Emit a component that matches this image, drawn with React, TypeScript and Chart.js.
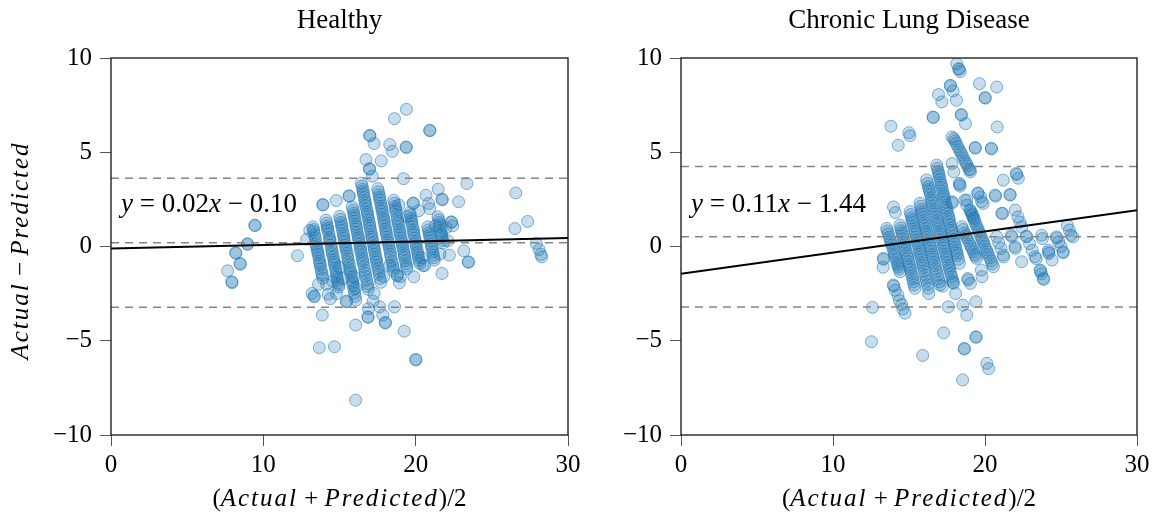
import React, { useEffect, useRef } from "react";
import { Chart, registerables } from "chart.js";

Chart.register(...registerables);

type P = [number, number];

// ---------- Healthy panel ----------
const healthyTitle = "Healthy";
const healthyEquation = ["y", " = 0.02", "x", " − 0.10"];
const healthyFit: P[] = [[0, -0.1], [30, 0.45]];
const healthyLimits = [3.62, 0.2, -3.22];

const healthyOutliers: P[] = [
  [7.66, -1.29], [7.93, -1.87], [7.95, -1.92], [8.18, -0.32], [8.2, -0.36], [8.47, -0.9], [8.49, -0.94],
  [8.95, 0.14], [8.97, 0.12], [9.44, 1.13], [9.46, 1.11], [12.24, -0.49], [12.85, 0.39], [13.2, -2.49],
  [13.33, -2.63], [13.35, -2.66], [13.67, -5.37], [14.67, -5.32], [13.87, -3.64], [14.26, -2.53],
  [14.4, -2.77], [14.79, 2.44], [13.9, 2.23], [13.92, 2.2], [15.45, -2.9], [15.47, -2.93], [16.06, -4.17],
  [16.06, -8.15], [15.62, 2.69], [15.64, 2.66], [16.74, 4.61], [16.98, 5.9], [17.0, 5.87], [17.27, 5.46],
  [16.96, 4.13], [16.98, 4.1], [17.15, 3.73], [17.74, 4.54], [18.3, 5.41], [18.47, 5.05], [18.61, 6.78],
  [19.39, 7.28], [19.37, 5.28], [19.39, 5.25], [20.92, 6.17], [20.94, 6.14], [19.2, 3.6], [19.83, 2.31],
  [19.85, 2.28], [20.68, 2.72], [20.85, 2.28], [20.92, 2.01], [21.48, 3.04], [21.73, 2.51], [21.75, 2.48],
  [22.82, 2.37], [23.36, 3.34], [22.34, 1.31], [22.36, 1.28], [22.43, 1.1], [23.16, -0.23], [23.45, -0.81],
  [23.47, -0.84], [22.21, -0.46], [21.73, -1.43], [26.57, 2.84], [26.52, 0.95], [27.35, 1.33], [27.91, 0.16],
  [28.1, -0.16], [28.22, -0.42], [28.27, -0.55], [17.64, -3.2], [17.84, -3.64], [18.0, -4.03], [18.02, -4.06],
  [18.61, -3.2], [18.93, -1.93], [18.78, -1.52], [18.8, -1.55], [19.25, -4.49], [20.0, -5.99], [20.02, -6.02],
  [16.86, -3.73], [16.88, -3.76], [17.27, -2.49], [19.88, -1.61], [20.49, -1.02],
];

const healthyStripes: P[] = [
  [13.25, 1.04], [13.31, 0.78], [13.4, 0.47], [13.45, 0.12], [13.54, -0.18], [13.6, -0.42], [13.69, -0.78],
  [13.74, -1.02], [13.83, -1.38], [13.9, -1.68],
  [14.11, 1.4], [14.19, 1.08], [14.23, 0.87], [14.34, 0.48], [14.38, 0.27], [14.48, -0.12], [14.53, -0.38],
  [14.63, -0.72], [14.68, -0.98], [14.77, -1.33], [14.83, -1.62], [14.91, -1.93], [14.95, -2.15],
  [15.01, 1.6], [15.1, 1.28], [15.15, 1.03], [15.24, 0.68], [15.29, 0.42], [15.38, 0.08], [15.44, -0.18],
  [15.53, -0.52], [15.59, -0.83], [15.68, -1.17], [15.74, -1.43], [15.84, -1.82], [15.89, -2.08],
  [15.99, -2.47], [16.07, -2.84],
  [15.84, 2.1], [15.93, 1.78], [15.98, 1.52], [16.07, 1.18], [16.12, 0.92], [16.21, 0.58], [16.27, 0.32],
  [16.36, -0.02], [16.41, -0.28], [16.5, -0.62], [16.55, -0.88], [16.66, -1.27], [16.72, -1.58],
  [16.83, -1.97], [16.89, -2.28],
  [16.44, 3.36], [16.52, 3.03], [16.58, 2.77], [16.67, 2.43], [16.72, 2.17], [16.82, 1.83], [16.87, 1.57],
  [16.96, 1.23], [17.01, 0.97], [17.1, 0.63], [17.15, 0.37], [17.25, 0.03], [17.3, -0.23], [17.39, -0.57],
  [17.44, -0.83], [17.53, -1.17], [17.6, -1.48], [17.71, -1.9],
  [17.51, 3.07], [17.6, 2.73], [17.65, 2.47], [17.75, 2.13], [17.8, 1.87], [17.89, 1.53], [17.94, 1.27],
  [18.03, 0.93], [18.08, 0.67], [18.17, 0.33], [18.23, 0.07], [18.32, -0.27], [18.38, -0.58],
  [18.49, -0.97], [18.55, -1.28],
  [18.56, 2.45], [18.65, 2.13], [18.7, 1.87], [18.8, 1.48], [18.85, 1.22], [18.94, 0.88], [18.99, 0.62],
  [19.09, 0.28], [19.14, 0.02], [19.23, -0.32], [19.28, -0.58], [19.37, -0.92], [19.43, -1.18],
  [19.62, 1.8], [19.7, 1.48], [19.75, 1.22], [19.84, 0.88], [19.89, 0.62], [19.99, 0.28], [20.04, 0.02],
  [20.13, -0.32], [20.18, -0.58], [20.27, -0.9],
  [20.8, 1.04], [20.88, 0.73], [20.93, 0.47], [21.02, 0.13], [21.07, -0.13], [21.17, -0.47], [21.22, -0.72],
  [21.47, 1.57], [21.55, 1.28], [21.6, 1.02], [21.69, 0.68], [21.73, 0.47], [21.81, 0.18],
  [13.05, 0.85], [13.62, -2.0], [14.15, -2.0], [14.55, -1.85], [14.8, -2.5], [15.0, -1.1], [15.2, -1.7],
  [15.95, -1.6], [16.05, -2.2], [16.9, -3.3], [17.2, -2.9], [17.9, -1.6], [18.3, -1.0], [19.0, -1.6],
  [20.4, -0.6], [20.6, -1.0], [19.4, 1.6], [18.9, 2.2], [20.2, 1.9], [21.3, 1.1], [22.0, 1.0],
  [21.6, -0.4], [22.1, 0.3],
];

const healthyStripesDense: P[] = [
  [13.3, 0.9], [13.37, 0.62], [13.44, 0.3], [13.5, -0.03], [13.58, -0.3], [13.66, -0.6], [13.72, -0.9],
  [13.79, -1.2], [13.87, -1.52],
  [14.16, 1.24], [14.22, 0.97], [14.3, 0.68], [14.37, 0.38], [14.44, 0.07], [14.51, -0.25], [14.59, -0.55],
  [14.66, -0.85], [14.73, -1.15], [14.81, -1.48], [14.88, -1.78], [14.94, -2.04],
  [15.06, 1.44], [15.14, 1.15], [15.2, 0.86], [15.28, 0.55], [15.34, 0.25], [15.42, -0.05], [15.5, -0.35],
  [15.57, -0.68], [15.64, -1.0], [15.72, -1.3], [15.8, -1.62], [15.87, -1.95], [15.95, -2.28], [16.03, -2.65],
  [15.9, 1.94], [15.97, 1.65], [16.03, 1.35], [16.1, 1.05], [16.17, 0.75], [16.24, 0.45], [16.32, 0.15],
  [16.39, -0.15], [16.46, -0.45], [16.53, -0.75], [16.61, -1.07], [16.69, -1.42], [16.78, -1.77], [16.86, -2.12],
  [16.49, 3.2], [16.56, 2.9], [16.63, 2.6], [16.7, 2.3], [16.78, 2.0], [16.85, 1.7], [16.92, 1.4],
  [16.99, 1.1], [17.06, 0.8], [17.13, 0.5], [17.2, 0.2], [17.28, -0.1], [17.35, -0.4], [17.42, -0.7],
  [17.49, -1.0], [17.57, -1.32], [17.66, -1.7],
  [17.56, 2.9], [17.63, 2.6], [17.7, 2.3], [17.78, 2.0], [17.85, 1.7], [17.92, 1.4], [17.99, 1.1],
  [18.06, 0.8], [18.13, 0.5], [18.2, 0.2], [18.28, -0.1], [18.35, -0.42], [18.44, -0.78], [18.52, -1.12],
  [18.61, 2.3], [18.68, 2.0], [18.76, 1.68], [18.83, 1.35], [18.9, 1.05], [18.97, 0.75], [19.04, 0.45],
  [19.12, 0.15], [19.19, -0.15], [19.26, -0.45], [19.33, -0.75], [19.4, -1.05],
  [19.66, 1.64], [19.73, 1.35], [19.8, 1.05], [19.87, 0.75], [19.94, 0.45], [20.02, 0.15], [20.09, -0.15],
  [20.16, -0.45], [20.23, -0.75],
  [20.84, 0.88], [20.91, 0.6], [20.98, 0.3], [21.05, 0.0], [21.12, -0.3], [21.2, -0.6],
  [21.51, 1.42], [21.58, 1.15], [21.65, 0.85], [21.71, 0.58], [21.77, 0.32],
];

// ---------- Chronic Lung Disease panel ----------
const lungTitle = "Chronic Lung Disease";
const lungEquation = ["y", " = 0.11", "x", " − 1.44"];
const lungFit: P[] = [[0, -1.44], [30, 1.92]];
const lungLimits = [4.25, 0.52, -3.21];

const lungOutliers: P[] = [
  [12.53, -5.05], [12.6, -3.23], [13.81, 6.38], [13.98, 2.1], [14.1, 1.8], [14.29, 5.37], [14.99, 6.04],
  [15.06, 5.87], [15.9, -5.78], [16.58, 6.87], [16.6, 6.84], [16.94, 8.06], [17.16, 7.67], [17.28, -4.58],
  [17.59, -3.2], [17.71, 8.55], [17.73, 8.52], [17.9, 8.25], [18.12, 7.76], [18.14, 9.7], [18.27, 9.43],
  [18.29, 9.4], [18.36, 9.28], [18.43, 7.0], [18.45, 6.97], [18.72, 6.52], [18.53, -7.08], [18.63, -5.41],
  [18.65, -5.44], [18.55, -3.11], [18.8, -3.64], [19.4, -2.93], [19.4, -4.79], [19.42, -4.82], [19.35, 5.25],
  [19.37, 5.22], [19.64, 8.64], [20.0, 7.9], [20.02, 7.87], [20.41, 5.21], [20.43, 5.18], [20.77, 8.46],
  [20.8, 6.34], [20.12, -6.2], [20.24, -6.48], [17.83, 5.81], [17.83, 4.4], [17.95, 3.96], [18.31, 3.34],
  [18.33, 3.3], [18.36, 3.2], [17.83, 2.37], [17.85, 2.32], [19.52, 2.84], [19.71, 2.63], [19.88, 2.28],
  [20.7, 2.67], [21.2, 3.52], [21.64, 2.76], [21.66, 2.73], [22.05, 3.87], [22.09, 3.82], [22.19, 3.62],
  [21.16, 1.75], [21.99, 1.93], [22.17, 1.57], [22.29, 1.3], [22.41, 1.04], [21.73, 0.6], [22.41, -0.81],
  [22.72, 0.55], [22.74, 0.52], [22.93, 0.15], [23.11, -0.2], [23.29, -0.54], [23.37, -0.64], [23.73, 0.6],
  [23.78, 0.42], [23.62, -1.25], [23.66, -1.3], [23.72, -1.45], [23.84, -1.69], [23.86, -1.75], [24.17, -0.2],
  [24.19, -0.3], [24.21, -0.37], [24.41, -0.72], [24.7, 0.51], [24.73, 0.45], [24.85, 0.25], [25.0, 0.0],
  [25.13, -0.28], [25.15, -0.33], [25.42, 1.13], [25.55, 0.87], [25.66, 0.6], [25.78, 0.51], [20.77, 0.52],
  [20.9, 0.2], [21.05, -0.1], [21.2, -0.45], [21.22, -0.55], [21.76, 0.52], [21.97, 0.0], [22.0, -0.1],
  [18.07, -2.49], [18.87, -1.7], [18.9, -1.78], [19.04, -1.96], [19.76, -1.25], [19.8, -1.6], [18.67, 2.45],
  [18.8, 2.2], [19.04, 1.9], [19.16, 1.7], [19.28, 1.5], [19.56, 2.82], [19.78, 2.38], [18.8, 2.47],
  [20.66, 2.73], [21.1, 1.76], [13.3, -1.1], [16.3, -2.5], [17.2, -2.1], [17.9, -1.9],
];

const lungStripes: P[] = [
  [13.53, 0.96], [13.64, 0.67], [13.77, 0.33], [13.87, 0.07], [14.0, -0.27], [14.09, -0.53], [14.23, -0.87],
  [14.3, -1.08], [14.41, -1.34],
  [13.31, -0.63], [13.33, -0.68], [13.97, -2.04], [14.0, -2.1], [14.09, -2.32], [14.27, -2.58],
  [14.37, -2.87], [14.52, -3.08], [14.6, -3.32], [14.74, -3.54],
  [14.41, 1.14], [14.5, 0.83], [14.58, 0.57], [14.68, 0.23], [14.75, -0.03], [14.86, -0.37], [14.93, -0.63],
  [15.03, -0.97], [15.1, -1.23], [15.21, -1.57], [15.29, -1.88], [15.39, -2.22],
  [15.07, 1.85], [15.17, 1.53], [15.24, 1.27], [15.35, 0.93], [15.42, 0.67], [15.53, 0.33], [15.59, 0.07],
  [15.7, -0.27], [15.77, -0.53], [15.88, -0.87], [15.95, -1.13], [16.07, -1.52], [16.15, -1.83],
  [16.27, -2.22],
  [15.72, 2.29], [15.82, 1.98], [15.89, 1.72], [16.0, 1.38], [16.07, 1.12], [16.18, 0.78], [16.26, 0.52],
  [16.37, 0.18], [16.44, -0.08], [16.55, -0.42], [16.62, -0.68], [16.73, -1.02], [16.82, -1.33],
  [16.95, -1.72], [17.04, -2.04],
  [16.16, 3.53], [16.28, 3.18], [16.35, 2.92], [16.47, 2.58], [16.54, 2.32], [16.66, 1.98], [16.74, 1.72],
  [16.85, 1.38], [16.93, 1.12], [17.04, 0.78], [17.12, 0.52], [17.24, 0.18], [17.31, -0.08], [17.43, -0.42],
  [17.5, -0.68], [17.62, -1.02], [17.69, -1.28], [17.81, -1.62], [17.92, -1.95],
  [16.82, 4.32], [16.92, 3.98], [16.99, 3.72], [17.09, 3.38], [17.16, 3.12], [17.26, 2.78], [17.33, 2.52],
  [17.44, 2.18], [17.5, 1.92], [17.61, 1.58], [17.67, 1.32], [17.78, 0.98], [17.84, 0.72], [17.95, 0.38],
  [18.02, 0.12], [18.12, -0.22], [18.19, -0.48], [18.31, -0.89],
  [18.47, 1.05], [18.65, 0.73], [18.81, 0.47], [19.0, 0.13], [19.16, -0.13], [19.32, -0.42], [19.45, -0.63],
  [19.01, 1.94], [19.17, 1.63], [19.3, 1.37], [19.48, 1.03], [19.61, 0.77], [19.78, 0.43], [19.92, 0.17],
  [20.09, -0.17], [20.22, -0.43], [20.4, -0.77], [20.55, -1.07],
  [17.95, 5.72], [18.11, 5.47], [18.31, 5.13], [18.48, 4.87], [18.69, 4.53], [18.85, 4.27], [19.04, 3.96],
  [19.02, 4.06],
];

const lungStripesDense: P[] = [
  [13.58, 0.82], [13.7, 0.5], [13.82, 0.2], [13.94, -0.1], [14.05, -0.4], [14.16, -0.7], [14.27, -0.98], [14.36, -1.2],
  [14.46, 0.98], [14.55, 0.7], [14.63, 0.4], [14.72, 0.1], [14.8, -0.2], [14.9, -0.5], [14.98, -0.8],
  [15.07, -1.1], [15.16, -1.4], [15.25, -1.72], [15.34, -2.05],
  [15.12, 1.69], [15.21, 1.4], [15.3, 1.1], [15.39, 0.8], [15.48, 0.5], [15.56, 0.2], [15.65, -0.1],
  [15.74, -0.4], [15.83, -0.7], [15.92, -1.0], [16.01, -1.32], [16.11, -1.68], [16.21, -2.02],
  [15.77, 2.14], [15.86, 1.85], [15.95, 1.55], [16.04, 1.25], [16.13, 0.95], [16.22, 0.65], [16.31, 0.35],
  [16.4, 0.05], [16.5, -0.25], [16.59, -0.55], [16.68, -0.85], [16.78, -1.18], [16.89, -1.52], [17.0, -1.88],
  [16.22, 3.35], [16.32, 3.05], [16.41, 2.75], [16.5, 2.45], [16.6, 2.15], [16.7, 1.85], [16.8, 1.55],
  [16.89, 1.25], [16.99, 0.95], [17.08, 0.65], [17.18, 0.35], [17.28, 0.05], [17.37, -0.25], [17.47, -0.55],
  [17.56, -0.85], [17.66, -1.15], [17.75, -1.45], [17.86, -1.78],
  [16.87, 4.15], [16.96, 3.85], [17.04, 3.55], [17.13, 3.25], [17.21, 2.95], [17.3, 2.65], [17.38, 2.35],
  [17.47, 2.05], [17.55, 1.75], [17.64, 1.45], [17.72, 1.15], [17.81, 0.85], [17.9, 0.55], [17.98, 0.25],
  [18.07, -0.05], [18.15, -0.35], [18.25, -0.68],
  [18.56, 0.9], [18.73, 0.6], [18.9, 0.3], [19.08, 0.0], [19.24, -0.28], [19.38, -0.52],
  [19.09, 1.8], [19.24, 1.5], [19.4, 1.2], [19.55, 0.9], [19.7, 0.6], [19.85, 0.3], [20.0, 0.0],
  [20.15, -0.3], [20.31, -0.6], [20.48, -0.92],
  [18.03, 5.6], [18.2, 5.3], [18.4, 5.0], [18.58, 4.7], [18.77, 4.4], [18.95, 4.1],
];

// ---------- shared axes ----------
const xTicks = [0, 10, 20, 30];
const yTicks = [-10, -5, 0, 5, 10];
const xLabelParts = [["(", false], ["Actual", true], [" + ", false], ["Predicted", true], [")/2", false]];
const yLabelParts = [["Actual", true], [" − ", false], ["Predicted", true]];

const SERIF = '"Liberation Serif", "DejaVu Serif", serif';

function fontOf(size: number, italic: boolean) {
  return `${italic ? "italic " : ""}${size}px ${SERIF}`;
}

function drawParts(ctx: CanvasRenderingContext2D, parts: any[], size: number, cx: number, cy: number, align: "center" | "left", spacing: string) {
  const widths = parts.map(([t, it]) => {
    ctx.font = fontOf(size, it);
    (ctx as any).letterSpacing = it ? spacing : "0px";
    return ctx.measureText(t).width;
  });
  const total = widths.reduce((a, b) => a + b, 0);
  let x = align === "center" ? cx - total / 2 : cx;
  ctx.textBaseline = "middle";
  ctx.textAlign = "left";
  ctx.fillStyle = "#000";
  parts.forEach(([t, it], i) => {
    ctx.font = fontOf(size, it);
    (ctx as any).letterSpacing = it ? spacing : "0px";
    ctx.fillText(t, x, cy);
    x += widths[i];
  });
  (ctx as any).letterSpacing = "0px";
}

function fmt(v: number) {
  return v < 0 ? "−" + Math.abs(v) : String(v);
}

type PanelProps = {
  left: number;
  width: number;
  padRight: number;
  title: string;
  equation: string[];
  fit: P[];
  limits: number[];
  points: P[];
  showYLabel: boolean;
};

function Panel(props: PanelProps) {
  const ref = useRef<HTMLCanvasElement | null>(null);
  useEffect(() => {
    const canvas = ref.current;
    if (!canvas) return;
    const deco = {
      id: "deco",
      afterDatasetsDraw(chart: any) {
        const { ctx, chartArea: a } = chart;
        ctx.save();
        ctx.strokeStyle = "#111";
        ctx.lineWidth = 1.3;
        ctx.strokeRect(a.left, a.top, a.right - a.left, a.bottom - a.top);
        ctx.restore();
      },
      afterDraw(chart: any) {
        const { ctx, chartArea: a } = chart;
        const cx = (a.left + a.right) / 2;
        ctx.save();
        ctx.font = fontOf(27, false);
        ctx.fillStyle = "#000";
        ctx.textAlign = "center";
        ctx.textBaseline = "middle";
        ctx.fillText(props.title, cx, 21);
        drawParts(ctx, xLabelParts, 25, cx, 499, "center", "2px");
        const eqParts = props.equation.map((t, i) => [t, i % 2 === 0]);
        const ys = chart.scales.y.getPixelForValue(2.2);
        drawParts(ctx, eqParts, 27, a.left + 10, ys, "left", "0px");
        if (props.showYLabel) {
          ctx.save();
          ctx.translate(21, (a.top + a.bottom) / 2 + 4);
          ctx.rotate(-Math.PI / 2);
          drawParts(ctx, yLabelParts, 25, 0, 0, "center", "2px");
          ctx.restore();
        }
        ctx.restore();
      },
    };
    const lineDs = (data: P[], color: string, width: number, dash: number[]) => ({
      data: data.map(([x, y]) => ({ x, y })),
      showLine: true,
      borderColor: color,
      borderWidth: width,
      borderDash: dash,
      pointRadius: 0,
      fill: false,
    });
    const chart = new Chart(canvas, {
      type: "scatter",
      data: {
        datasets: [
          lineDs(props.fit, "#000", 2, []),
          ...props.limits.map((v) => lineDs([[0, v], [30, v]], "#858585", 1.5, [8, 6])),
          {
            data: props.points.map(([x, y]) => ({ x, y })),
            backgroundColor: "rgba(31,119,180,0.25)",
            borderColor: "rgba(31,119,180,0.55)",
            borderWidth: 1,
            pointRadius: 6,
          } as any,
        ],
      },
      options: {
        responsive: false,
        animation: false,
        events: [],
        layout: { padding: { left: 0, right: props.padRight, top: 58, bottom: 0 } },
        plugins: { legend: { display: false }, tooltip: { enabled: false }, title: { display: false } },
        scales: {
          x: {
            type: "linear",
            min: 0,
            max: 30,
            afterBuildTicks: (s: any) => {
              s.ticks = xTicks.map((v) => ({ value: v }));
            },
            afterFit: (s: any) => {
              s.height = 83;
            },
            ticks: {
              callback: (v: any) => fmt(Number(v)),
              font: { family: SERIF, size: 25 },
              color: "#000",
              padding: 4,
              maxRotation: 0,
              autoSkip: false,
            },
            grid: { drawOnChartArea: false, drawTicks: true, tickLength: 11, color: "#555", lineWidth: 1 },
            border: { display: false },
          },
          y: {
            type: "linear",
            min: -10,
            max: 10,
            afterBuildTicks: (s: any) => {
              s.ticks = yTicks.map((v) => ({ value: v }));
            },
            afterFit: (s: any) => {
              s.width = 111;
            },
            ticks: {
              callback: (v: any) => fmt(Number(v)),
              font: { family: SERIF, size: 25 },
              color: "#000",
              padding: 8,
              autoSkip: false,
            },
            grid: { drawOnChartArea: false, drawTicks: true, tickLength: 11, color: "#555", lineWidth: 1 },
            border: { display: false },
          },
        },
      },
      plugins: [deco],
    } as any);
    return () => chart.destroy();
  }, []);
  return (
    <canvas
      ref={ref}
      width={props.width}
      height={518}
      style={{ position: "absolute", left: props.left, top: 0, width: props.width, height: 518 }}
    />
  );
}

export default function App() {
  return (
    <div style={{ position: "absolute", left: 0, top: 0, width: 1155, height: 518, background: "#fff", overflow: "hidden" }}>
      <Panel
        left={0}
        width={600}
        padRight={32}
        title={healthyTitle}
        equation={healthyEquation}
        fit={healthyFit}
        limits={healthyLimits}
        points={[...healthyStripes, ...healthyStripesDense, ...healthyOutliers]}
        showYLabel={true}
      />
      <Panel
        left={570}
        width={585}
        padRight={18}
        title={lungTitle}
        equation={lungEquation}
        fit={lungFit}
        limits={lungLimits}
        points={[...lungStripes, ...lungStripesDense, ...lungOutliers]}
        showYLabel={false}
      />
    </div>
  );
}
